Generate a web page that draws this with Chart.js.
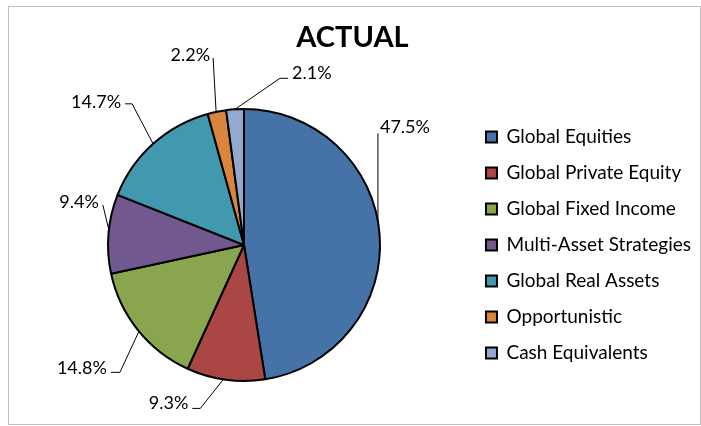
<!DOCTYPE html>
<html><head><meta charset="utf-8">
<script src="https://cdn.jsdelivr.net/npm/chart.js@4.4.1/dist/chart.umd.min.js"></script>
<style>html,body{margin:0;padding:0;background:#fff}#c{display:block}</style>
</head><body>
<canvas id="c" width="701" height="426"></canvas>
<script>
// ---- data ----
const categories = ['Global Equities','Global Private Equity','Global Fixed Income','Multi-Asset Strategies','Global Real Assets','Opportunistic','Cash Equivalents'];
const actualValues = [47.5, 9.3, 14.8, 9.4, 14.7, 2.2, 2.1];
const sliceColors = ['#4572A7','#AA4643','#89A54E','#71588F','#4198AF','#DB843D','#93A9CF'];
const titleText = 'ACTUAL';

// ---- style / layout ----
const FONT = 'Lato';
const LEG_SIZE = 19, LEG_PAD = 17, BOX = 11, LABEL_SIZE = 18;
const W = 701, CX = 244, LEGEND_LEFT = 473, TITLE_CX = 352.5;
const mctx = document.createElement('canvas').getContext('2d');
mctx.font = LEG_SIZE + 'px ' + FONT;
const maxTextW = Math.max(...categories.map(t => mctx.measureText(t).width));
const legendW = LEG_PAD + BOX + LEG_SIZE / 2 + maxTextW + 10;
const padRight = Math.max(0, W - LEGEND_LEFT - legendW);
const padLeft = Math.max(0, 2 * CX - (W - padRight - legendW));

// label leader layout: anchor fraction along slice, elbow offset, horizontal tail, text side & offset
const labelLayout = [
  {frac:0.468, elbow:[0,-88],  h:0,  side:'left',  tdx:2,  tdy:-6},
  {frac:0.53,  elbow:[-23,29], h:-8, side:'right', tdx:-4, tdy:-5},
  {frac:0.49,  elbow:[-19,41], h:-9, side:'right', tdx:-4, tdy:-4},
  {frac:0.55,  elbow:[-6,-25], h:0,  side:'right', tdx:-4, tdy:-3},
  {frac:0.5,   elbow:[-21,-40],h:-7, side:'right', tdx:-4, tdy:-2},
  {frac:0.46,  elbow:[-3,-54], h:0,  side:'right', tdx:-3, tdy:-3},
  {frac:0.5,   elbow:[45,-31], h:8,  side:'left',  tdx:4,  tdy:-5}
];

const framePlugin = {
  id: 'frame',
  afterLayout(chart) {
    const t = chart.titleBlock;
    if (t) {
      const shift = TITLE_CX - (t.left + t.right) / 2;
      t.left += shift; t.right += shift;
    }
  },
  beforeDraw(chart) {
    const ctx = chart.ctx;
    ctx.save();
    ctx.fillStyle = '#fff';
    ctx.fillRect(0, 0, chart.width, chart.height);
    ctx.strokeStyle = '#bfbfbf';
    ctx.lineWidth = 1;
    ctx.strokeRect(8.5, 6.5, 692, 418);
    ctx.restore();
  }
};

const leaderPlugin = {
  id: 'leaders',
  afterDatasetsDraw(chart) {
    const ctx = chart.ctx;
    const meta = chart.getDatasetMeta(0);
    ctx.save();
    ctx.strokeStyle = '#000';
    ctx.lineWidth = 1;
    ctx.fillStyle = '#000';
    ctx.font = LABEL_SIZE + 'px ' + FONT;
    ctx.textBaseline = 'middle';
    meta.data.forEach((arc, i) => {
      const p = arc.getProps(['x','y','startAngle','endAngle','outerRadius'], true);
      const L = labelLayout[i];
      const a = p.startAngle + (p.endAngle - p.startAngle) * L.frac;
      const ax = p.x + Math.cos(a) * p.outerRadius, ay = p.y + Math.sin(a) * p.outerRadius;
      const ex = ax + L.elbow[0], ey = ay + L.elbow[1];
      const fx = ex + L.h, fy = ey;
      ctx.beginPath();
      ctx.moveTo(ax, ay);
      ctx.lineTo(ex, ey);
      if (L.h) ctx.lineTo(fx, fy);
      ctx.stroke();
      ctx.textAlign = L.side;
      ctx.fillText(actualValues[i].toFixed(1) + '%', fx + L.tdx, fy + L.tdy);
    });
    ctx.restore();
  }
};

new Chart(document.getElementById('c'), {
  type: 'pie',
  data: {
    labels: categories,
    datasets: [{
      data: actualValues,
      backgroundColor: sliceColors,
      borderColor: '#000',
      borderWidth: 2
    }]
  },
  options: {
    responsive: false,
    devicePixelRatio: 1,
    animation: false,
    events: [],
    layout: { padding: { left: padLeft, right: padRight, top: 0, bottom: 44 } },
    plugins: {
      title: {
        display: true,
        text: titleText,
        color: '#000',
        font: { family: FONT, size: 29, weight: 'bold', lineHeight: 1.2 },
        padding: { top: 20.2, bottom: 53.0 }
      },
      legend: {
        position: 'right',
        align: 'center',
        fullSize: false,
        labels: {
          color: '#000',
          font: { family: FONT, size: LEG_SIZE },
          boxWidth: BOX,
          boxHeight: BOX,
          padding: LEG_PAD
        }
      },
      tooltip: { enabled: false }
    }
  },
  plugins: [framePlugin, leaderPlugin]
});
</script>
</body></html>
